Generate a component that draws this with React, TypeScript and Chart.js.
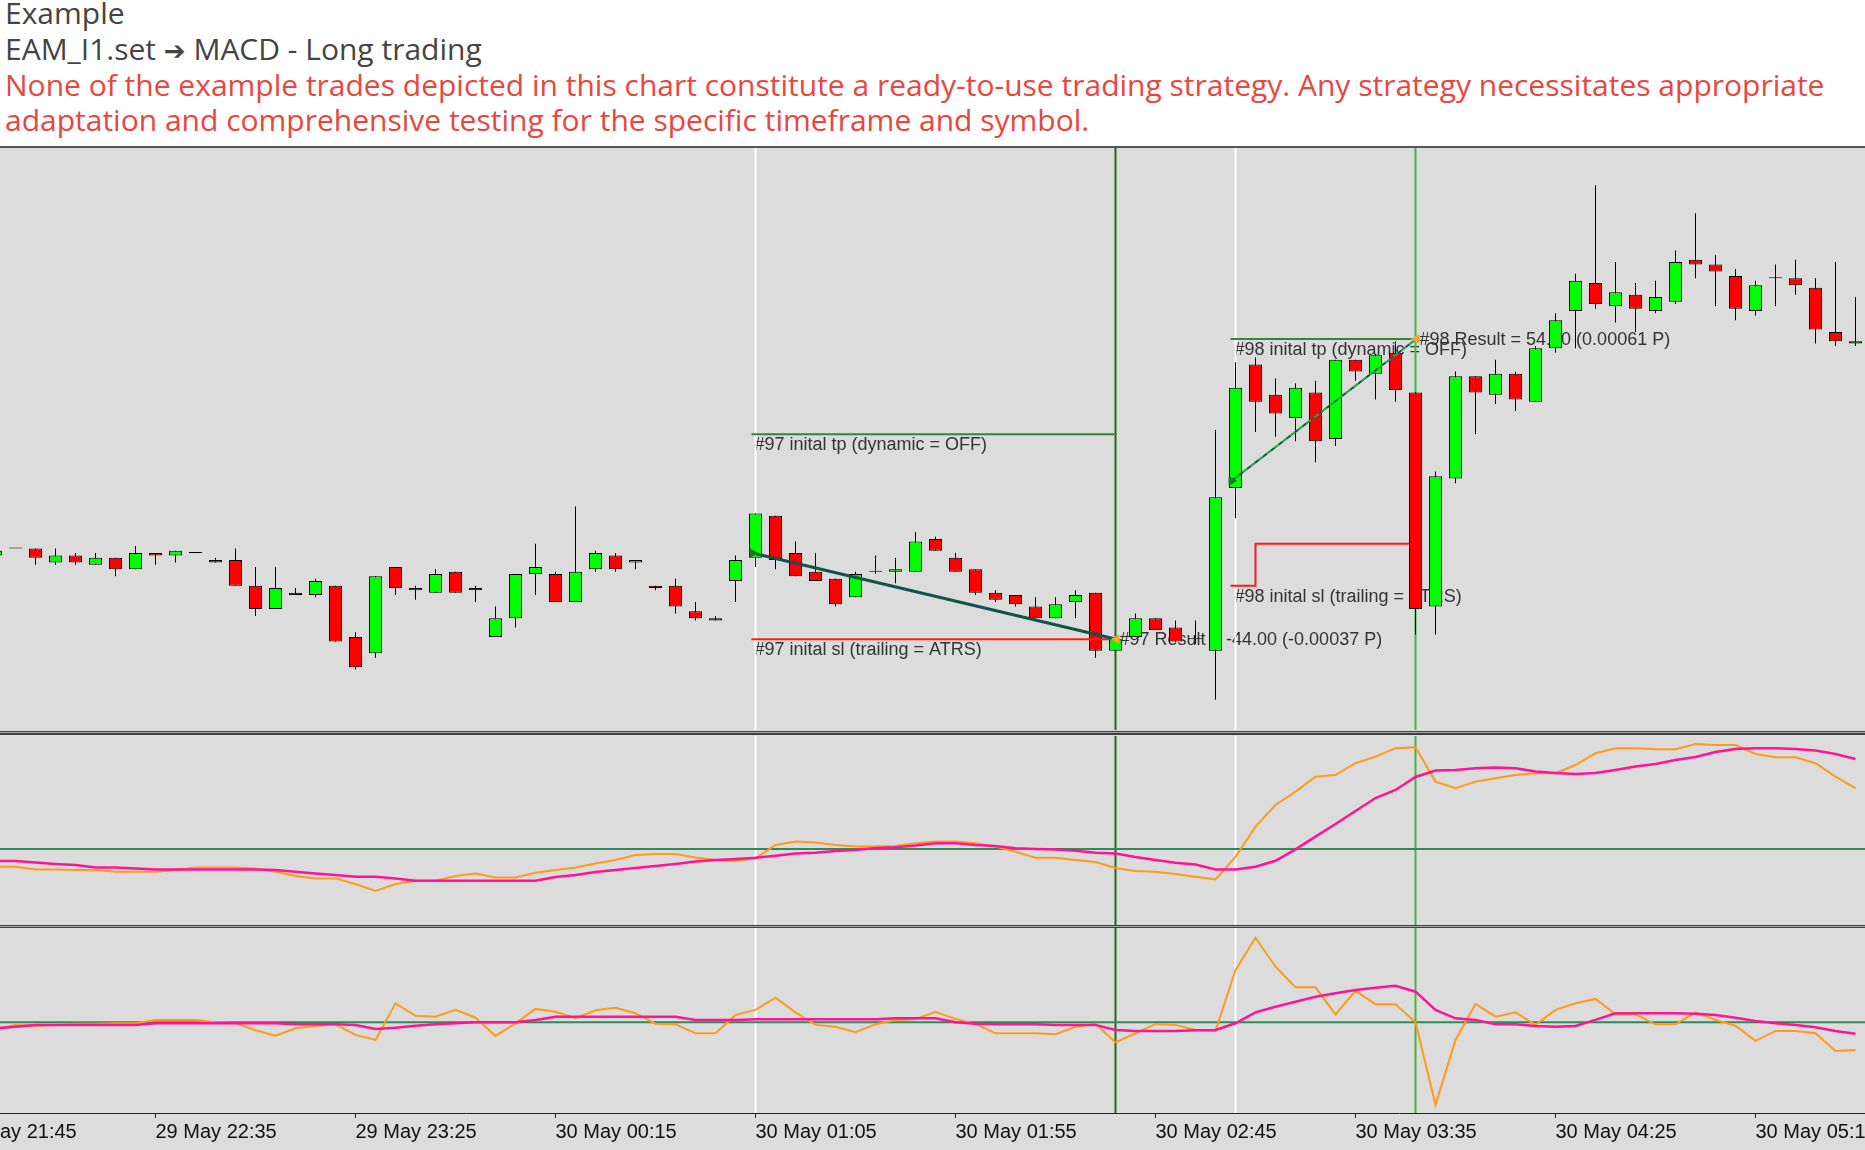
import React, { useEffect, useRef } from "react";
import { Chart, registerables } from "chart.js";

Chart.register(...registerables);

// ---------- bar axis (index 38 = 30 May 01:05, 5-minute bars) ----------
const tickBars = [-2, 8, 18, 28, 38, 48, 58, 68, 78, 88];
const tickLabels = [
  "29 May 21:45", "29 May 22:35", "29 May 23:25", "30 May 00:15", "30 May 01:05",
  "30 May 01:55", "30 May 02:45", "30 May 03:35", "30 May 04:25", "30 May 05:15",
];

// ---------- candles ----------
const openP = [
  1.07075, 1.07078, 1.07078, 1.07072, 1.07075, 1.07071, 1.07074, 1.07069, 1.07076, 1.07075,
  1.07076, 1.07073, 1.07073, 1.07062, 1.07052, 1.07059, 1.07058, 1.07062, 1.07040, 1.07033,
  1.07070, 1.07060, 1.07059, 1.07068, 1.07061, 1.07040, 1.07048, 1.07067, 1.07067, 1.07055,
  1.07069, 1.07075, 1.07072, 1.07062, 1.07062, 1.07051, 1.07047, 1.07064, 1.07074, 1.07092,
  1.07076, 1.07068, 1.07065, 1.07057, 1.07068, 1.07068, 1.07068, 1.07082, 1.07074, 1.07069,
  1.07059, 1.07058, 1.07053, 1.07048, 1.07055, 1.07059, 1.07034, 1.07040, 1.07048, 1.07044,
  1.07039, 1.07034, 1.07104, 1.07157, 1.07144, 1.07134, 1.07145, 1.07125, 1.07159, 1.07153,
  1.07162, 1.07145, 1.07053, 1.07108, 1.07152, 1.07144, 1.07153, 1.07141, 1.07164, 1.07180,
  1.07192, 1.07182, 1.07187, 1.07180, 1.07184, 1.07202, 1.07200, 1.07195, 1.07180, 1.07194,
  1.07194, 1.07190, 1.07171, 1.07166,
];
const highP = [
  1.07078, 1.07078, 1.07078, 1.07078, 1.07076, 1.07076, 1.07074, 1.07079, 1.07076, 1.07077,
  1.07076, 1.07074, 1.07078, 1.07070, 1.07070, 1.07061, 1.07065, 1.07062, 1.07042, 1.07066,
  1.07070, 1.07062, 1.07069, 1.07068, 1.07062, 1.07053, 1.07067, 1.07080, 1.07068, 1.07096,
  1.07077, 1.07076, 1.07073, 1.07062, 1.07065, 1.07055, 1.07049, 1.07075, 1.07093, 1.07092,
  1.07081, 1.07076, 1.07065, 1.07068, 1.07075, 1.07074, 1.07085, 1.07083, 1.07076, 1.07069,
  1.07060, 1.07058, 1.07057, 1.07057, 1.07060, 1.07059, 1.07039, 1.07050, 1.07048, 1.07047,
  1.07047, 1.07129, 1.07158, 1.07160, 1.07151, 1.07149, 1.07150, 1.07159, 1.07159, 1.07161,
  1.07167, 1.07145, 1.07111, 1.07154, 1.07152, 1.07159, 1.07154, 1.07165, 1.07179, 1.07196,
  1.07234, 1.07201, 1.07192, 1.07193, 1.07206, 1.07222, 1.07204, 1.07198, 1.07193, 1.07200,
  1.07202, 1.07194, 1.07201, 1.07186,
];
const lowP = [
  1.07074, 1.07078, 1.07071, 1.07071, 1.07071, 1.07071, 1.07066, 1.07069, 1.07071, 1.07072,
  1.07076, 1.07072, 1.07062, 1.07049, 1.07052, 1.07058, 1.07057, 1.07038, 1.07026, 1.07031,
  1.07058, 1.07056, 1.07059, 1.07059, 1.07055, 1.07040, 1.07044, 1.07058, 1.07055, 1.07055,
  1.07068, 1.07068, 1.07069, 1.07060, 1.07050, 1.07047, 1.07047, 1.07055, 1.07070, 1.07069,
  1.07066, 1.07064, 1.07053, 1.07057, 1.07067, 1.07063, 1.07068, 1.07077, 1.07068, 1.07058,
  1.07055, 1.07053, 1.07048, 1.07048, 1.07048, 1.07031, 1.07034, 1.07040, 1.07043, 1.07038,
  1.07037, 1.07013, 1.07091, 1.07128, 1.07126, 1.07124, 1.07115, 1.07122, 1.07150, 1.07142,
  1.07141, 1.07041, 1.07041, 1.07106, 1.07127, 1.07140, 1.07137, 1.07141, 1.07162, 1.07164,
  1.07181, 1.07175, 1.07171, 1.07179, 1.07183, 1.07194, 1.07182, 1.07176, 1.07178, 1.07182,
  1.07187, 1.07166, 1.07165, 1.07165,
];
const closeP = [
  1.07077, 1.07078, 1.07074, 1.07075, 1.07072, 1.07074, 1.07069, 1.07076, 1.07075, 1.07077,
  1.07076, 1.07072, 1.07062, 1.07052, 1.07061, 1.07058, 1.07064, 1.07038, 1.07027, 1.07066,
  1.07061, 1.07061, 1.07067, 1.07059, 1.07060, 1.07048, 1.07067, 1.07070, 1.07055, 1.07068,
  1.07076, 1.07069, 1.07073, 1.07061, 1.07053, 1.07048, 1.07048, 1.07073, 1.07093, 1.07073,
  1.07066, 1.07064, 1.07054, 1.07067, 1.07068, 1.07069, 1.07081, 1.07077, 1.07068, 1.07059,
  1.07056, 1.07054, 1.07048, 1.07054, 1.07058, 1.07034, 1.07039, 1.07048, 1.07043, 1.07038,
  1.07039, 1.07100, 1.07147, 1.07141, 1.07136, 1.07147, 1.07124, 1.07159, 1.07154, 1.07161,
  1.07146, 1.07052, 1.07109, 1.07152, 1.07145, 1.07153, 1.07142, 1.07164, 1.07176, 1.07193,
  1.07183, 1.07188, 1.07181, 1.07186, 1.07201, 1.07200, 1.07197, 1.07181, 1.07191, 1.07194,
  1.07191, 1.07172, 1.07167, 1.07167,
];

// ---------- MACD window ----------
const macdMain = [
  -8.9, -8.9, -10.2, -10.2, -10.5, -10.5, -11.4, -11.4, -11.4, -10.5,
  -9.2, -9.2, -9.2, -9.7, -11.4, -13.5, -14.7, -14.7, -17.5, -21,
  -17.5, -15.9, -15.9, -13.5, -12.2, -14.2, -14.2, -11.9, -10.5, -9.2,
  -7.2, -5.5, -3, -2.5, -2.5, -4.2, -5.5, -6, -4.7, 2,
  3.7, 3.3, 2, 1.2, 1.2, 1.5, 2.9, 3.7, 3.7, 2.9,
  1.2, -1.4, -4.4, -4.4, -5.5, -6.5, -9.5, -11, -11.4, -12.5,
  -13.9, -15.2, -3.9, 11.2, 22, 28.7, 36.2, 37, 42.9, 46.2,
  50.4, 50.9, 33.7, 30.4, 33.7, 35.4, 37, 37.9, 37.9, 42,
  47.9, 50.4, 50.4, 49.9, 49.9, 52.5, 52, 52, 47.5, 45.9,
  45.9, 42.9, 36.2, 30.4,
];
const macdSignal = [
  -6, -6, -6.8, -7.5, -8, -9.2, -9.2, -9.8, -10.2, -10.2,
  -10.2, -10.2, -10.2, -10.2, -10.5, -11.4, -12.2, -13, -13.9, -13.9,
  -14.7, -15.9, -15.9, -15.9, -15.9, -15.9, -15.9, -15.9, -14, -13,
  -11.5, -10.5, -9.5, -8.5, -7.5, -6.3, -5.5, -5, -4.4, -3.4,
  -2.3, -1.9, -1, -0.5, 0.5, 0.9, 1.7, 2.9, 2.9, 2,
  1.5, 0.4, 0, -0.3, -0.9, -1.9, -2.2, -4, -5.5, -6.9,
  -7.8, -10.2, -10.2, -8.9, -5.9, -0.2, 6.2, 12.5, 19, 25.5,
  29.5, 36, 39.2, 39.5, 40.4, 40.7, 40.4, 38.7, 38, 37.5,
  38, 39.5, 41.2, 42.5, 44.5, 46, 48.5, 50, 50.4, 50.4,
  50, 49.2, 47.5, 45,
];

// ---------- lower oscillator window ----------
const oscMain = [
  -3.3, -1.3, -1.7, -1.3, -0.7, -0.7, -0.5, -0.5, 1.2, 1.2,
  1.2, 0, -0.3, -4, -6.7, -3, -1.8, -1, -6.3, -8.8,
  9.5, 3.3, 2.8, 6.2, 2.3, -6.8, -0.5, 6.7, 5.3, 2,
  6, 7.3, 4.5, -0.7, -1, -5.5, -5.5, 3.7, 6.2, 12.3,
  5, -1.3, -2.2, -5, -1, 1.2, 1.5, 5.3, 1.7, -0.8,
  -5.5, -5.5, -5.5, -6, -2.2, -0.8, -10, -5.5, -0.8, -1.3,
  -3.8, -4.3, 26.2, 42.3, 27.8, 17.5, 17.5, 4, 15.7, 9,
  9, 0, -41.3, -8.8, 9.2, 2.8, 5, -1.3, 6.2, 9.5,
  11.7, 4, 4, -1, -1, 5, 1.2, -1.7, -9.3, -4.3,
  -4.3, -5.5, -14.3, -13.8,
];
const oscSignal = [
  -3, -2.2, -1.3, -1.3, -1.3, -1.3, -1.3, -1.3, -0.5, -0.5,
  -0.5, -0.5, -0.5, -0.5, -0.5, -1, -1, -1, -1.3, -3.3,
  -2.7, -1.7, -1, -0.5, 0, 0, 0, 1.2, 2.8, 2.8,
  2.8, 2.8, 2.8, 2.8, 2.8, 1.2, 1.2, 1.2, 1.5, 1.5,
  1.5, 1.5, 1.5, 1.5, 1.5, 2, 2, 2, 0, -0.7,
  -1, -1, -1, -1.3, -1.3, -1.3, -3.8, -4.3, -4.3, -4.3,
  -4, -3.8, -0.5, 5, 7.8, 10.3, 12.8, 14.5, 16.2, 17.3,
  18.3, 15.3, 6.2, 2, 1.2, -1, -1, -1.8, -2.2, -1.8,
  1.2, 4.5, 4.5, 4.5, 4.5, 4.3, 3.7, 2.3, 0.7, -0.5,
  -1.3, -2.5, -4.3, -5.7,
];

// ---------- trade objects ----------
const tradeNames = ["#97", "#98"];
const entryBar = [37.85, 61.8];
const entryPrice = [1.07076, 1.07107];
const exitBar = [56.05, 71.05];
const exitPrice = [1.07039, 1.07168];
const tpPrice = [1.07127, 1.07168];
const slStartPrice = [1.07039, 1.07062];
const slTrailBar = [null, 63];
const slTrailPrice = [null, 1.0708];
const slEndBar = [56, 70.7];
const resultTexts = ["#97 Result = -44.00 (-0.00037 P)", "#98 Result = 54.00 (0.00061 P)"];
const tpTexts = ["#97 inital tp (dynamic = OFF)", "#98 inital tp (dynamic = OFF)"];
const slTexts = ["#97 inital sl (trailing = ATRS)", "#98 inital sl (trailing = ATRS)"];

// vertical object lines (bar index)
const vLineBars = [38, 56, 62, 71];
const vLineColors = ["#ffffff", "#1d6a1d", "#ffffff", "#3dbb3d"];

// ---------- layout constants ----------
const W = 1865;
const X_MIN = 0.225;
const X_MAX = 93.475;
const PRICE_MIN = 1.07;
const PRICE_MAX = 1.0725;
const MACD_MIN = -38;
const MACD_MAX = 56.5;
const OSC_MIN = -45.35;
const OSC_MAX = 47.15;
const ARIAL = '"Liberation Sans", Arial, Helvetica, sans-serif';

const barIdx = openP.map((_, i) => i);

function vLineSets(yMin: number, yMax: number) {
  return vLineBars.map((b, k) => ({
    type: "line",
    data: [{ x: b, y: yMin }, { x: b, y: yMax }],
    borderColor: vLineColors[k],
    borderWidth: 2,
    pointRadius: 0,
    fill: false,
    order: 20,
  }));
}

function zeroLine() {
  return {
    type: "line",
    data: [{ x: X_MIN, y: 0 }, { x: X_MAX, y: 0 }],
    borderColor: "#2e8b57",
    borderWidth: 2,
    pointRadius: 0,
    fill: false,
    order: 15,
  };
}

function seriesSet(values: number[], color: string, width: number, order: number) {
  return {
    type: "line",
    data: values.map((v, i) => ({ x: i, y: v })),
    borderColor: color,
    borderWidth: width,
    pointRadius: 0,
    fill: false,
    tension: 0,
    order,
  };
}

const hiddenX = { type: "linear", min: X_MIN, max: X_MAX, offset: false, display: false };

function baseOptions(yMin: number, yMax: number, xScale: any) {
  return {
    responsive: false,
    animation: false,
    devicePixelRatio: 1,
    events: [],
    layout: { padding: 0, autoPadding: false },
    plugins: { legend: { display: false }, tooltip: { enabled: false } },
    scales: {
      x: xScale,
      y: { type: "linear", min: yMin, max: yMax, display: false },
    },
  };
}

const tradeTextPlugin = {
  id: "tradeText",
  beforeDatasetsDraw(chart: any) {
    const { ctx, scales } = chart;
    const x = scales.x;
    const y = scales.y;
    ctx.save();
    ctx.font = `18px ${ARIAL}`;
    ctx.fillStyle = "#333333";
    ctx.textAlign = "left";
    ctx.textBaseline = "middle";
    tradeNames.forEach((_, k) => {
      const lx = x.getPixelForValue(k === 0 ? 37.95 : 61.95);
      ctx.fillText(tpTexts[k], lx, y.getPixelForValue(tpPrice[k]) + 11);
      ctx.fillText(slTexts[k], lx, y.getPixelForValue(slStartPrice[k]) + 11);
      ctx.fillText(resultTexts[k], x.getPixelForValue(exitBar[k]) + 3, y.getPixelForValue(exitPrice[k]) + 1);
    });
    ctx.restore();
  },
};

function mainConfig(): any {
  const bodyColors = barIdx.map((i) =>
    closeP[i] > openP[i] ? "#00ff00" : closeP[i] < openP[i] ? "#ff0000" : "#000000"
  );
  const datasets: any[] = [
    ...vLineSets(PRICE_MIN, PRICE_MAX),
    {
      type: "bar",
      data: barIdx.map((i) => ({ x: i, y: [lowP[i], highP[i]] })),
      backgroundColor: "#000000",
      borderWidth: 0,
      barThickness: 1,
      grouped: false,
      inflateAmount: 0,
      order: 6,
    },
    {
      type: "bar",
      data: barIdx.map((i) => ({ x: i, y: [openP[i], closeP[i]] })),
      backgroundColor: bodyColors,
      borderColor: "#000000",
      borderWidth: 1,
      borderSkipped: false,
      barThickness: 13,
      minBarLength: 1,
      grouped: false,
      inflateAmount: 0,
      order: 5,
    },
  ];
  tradeNames.forEach((_, k) => {
    const startBar = entryBar[k] - 0.05;
    datasets.push({
      type: "line",
      data: [{ x: startBar, y: tpPrice[k] }, { x: exitBar[k], y: tpPrice[k] }],
      borderColor: "#2f8a2f",
      borderWidth: 2,
      pointRadius: 0,
      order: 4,
    });
    const slData: any[] = [{ x: startBar, y: slStartPrice[k] }];
    if (slTrailBar[k] !== null) {
      slData.push({ x: slTrailBar[k], y: slStartPrice[k] });
      slData.push({ x: slTrailBar[k], y: slTrailPrice[k] });
      slData.push({ x: slEndBar[k], y: slTrailPrice[k] });
    } else {
      slData.push({ x: slEndBar[k], y: slStartPrice[k] });
    }
    datasets.push({
      type: "line",
      data: slData,
      borderColor: "#ff1a1a",
      borderWidth: 2,
      pointRadius: 0,
      order: 4,
    });
    // trade path
    datasets.push({
      type: "line",
      data: [{ x: entryBar[k], y: entryPrice[k] }, { x: exitBar[k], y: exitPrice[k] }],
      borderColor: k === 0 ? "#0d5a3a" : "#25a83a",
      borderWidth: k === 0 ? 3 : 2,
      pointRadius: 0,
      order: 3,
    });
    datasets.push({
      type: "line",
      data: [{ x: entryBar[k], y: entryPrice[k] }, { x: exitBar[k], y: exitPrice[k] }],
      borderColor: "#1f3c8c",
      borderWidth: 1.5,
      borderDash: [4, 6],
      pointRadius: 0,
      order: 2,
    });
    datasets.push({
      type: "line",
      data: [{ x: entryBar[k], y: entryPrice[k] }],
      showLine: false,
      pointStyle: "triangle",
      pointRotation: 90,
      pointRadius: 5,
      pointBackgroundColor: "#1c7a1c",
      pointBorderColor: "#1c7a1c",
      order: 1,
    });
    datasets.push({
      type: "line",
      data: [{ x: exitBar[k], y: exitPrice[k] }],
      showLine: false,
      pointStyle: "triangle",
      pointRotation: -90,
      pointRadius: 5,
      pointBackgroundColor: "#f0a830",
      pointBorderColor: "#f0a830",
      order: 1,
    });
  });
  return {
    type: "bar",
    data: { datasets },
    options: baseOptions(PRICE_MIN, PRICE_MAX, hiddenX),
    plugins: [tradeTextPlugin],
  };
}

function macdConfig(): any {
  return {
    type: "line",
    data: {
      datasets: [
        ...vLineSets(MACD_MIN, MACD_MAX),
        zeroLine(),
        seriesSet(macdMain, "#ff9a1a", 2, 3),
        seriesSet(macdSignal, "#ff1493", 2.5, 2),
      ],
    },
    options: baseOptions(MACD_MIN, MACD_MAX, hiddenX),
  };
}

function oscConfig(): any {
  const xAxis = {
    type: "linear",
    min: X_MIN,
    max: X_MAX,
    offset: false,
    display: true,
    position: "bottom",
    afterBuildTicks: (scale: any) => {
      scale.ticks = tickBars.map((v) => ({ value: v }));
    },
    afterFit: (scale: any) => {
      scale.height = 37;
      scale.paddingLeft = 0;
      scale.paddingRight = 0;
    },
    ticks: {
      autoSkip: false,
      maxRotation: 0,
      minRotation: 0,
      align: "start",
      padding: 2,
      color: "#111111",
      font: { family: ARIAL, size: 20 },
      callback: (v: number) => {
        const k = tickBars.indexOf(v);
        return k >= 0 ? tickLabels[k] : "";
      },
    },
    grid: { drawOnChartArea: false, drawTicks: true, tickLength: 5, color: "#222222", lineWidth: 1 },
    border: { display: true, color: "#222222", width: 1 },
  };
  return {
    type: "line",
    data: {
      datasets: [
        ...vLineSets(OSC_MIN, OSC_MAX),
        zeroLine(),
        seriesSet(oscMain, "#ff9a1a", 2, 3),
        seriesSet(oscSignal, "#ff1493", 2.5, 2),
      ],
    },
    options: baseOptions(OSC_MIN, OSC_MAX, xAxis),
  };
}

export default function App() {
  const mainRef = useRef<HTMLCanvasElement>(null);
  const macdRef = useRef<HTMLCanvasElement>(null);
  const oscRef = useRef<HTMLCanvasElement>(null);

  useEffect(() => {
    const charts: Chart[] = [];
    if (mainRef.current) charts.push(new Chart(mainRef.current, mainConfig()));
    if (macdRef.current) charts.push(new Chart(macdRef.current, macdConfig()));
    if (oscRef.current) charts.push(new Chart(oscRef.current, oscConfig()));
    return () => charts.forEach((c) => c.destroy());
  }, []);

  const abs = (top: number, height: number, extra: any = {}) => ({
    position: "absolute" as const,
    left: 0,
    top,
    width: W,
    height,
    ...extra,
  });

  const red = "#e6473f";
  const lineStyle = { height: 35.8, lineHeight: "35.8px", overflow: "visible" as const };
  return (
    <div style={{ position: "absolute", left: 0, top: 0, width: W, height: 1150, background: "#ffffff", overflow: "hidden" }}>
      <div
        style={{
          position: "absolute",
          left: 5,
          top: -5,
          fontFamily: '"Open Sans", sans-serif',
          fontSize: 30,
          lineHeight: "35.8px",
          color: "#444444",
          whiteSpace: "nowrap",
        }}
      >
        <div style={lineStyle}>Example</div>
        <div style={lineStyle}>
          EAM_I1.set <span style={{ fontFamily: '"DejaVu Sans", sans-serif', fontSize: 26, lineHeight: "10px" }}>➔</span> MACD - Long trading
        </div>
        <div style={{ ...lineStyle, color: red }}>
          None of the example trades depicted in this chart constitute a ready-to-use trading strategy. Any strategy necessitates appropriate
        </div>
        <div style={{ ...lineStyle, color: red }}>adaptation and comprehensive testing for the specific timeframe and symbol.</div>
      </div>
      <div style={abs(146, 1004, { background: "#dcdcdc" })} />
      <div style={abs(146, 2, { background: "#555555" })} />
      <canvas ref={mainRef} width={W} height={582} style={abs(148, 582, { display: "block" })} />
      <div style={abs(731, 1, { background: "#404040" })} />
      <div style={abs(732, 1, { background: "#a8a8a8" })} />
      <div style={abs(733, 2, { background: "#404040" })} />
      <canvas ref={macdRef} width={W} height={189} style={abs(736, 189, { display: "block" })} />
      <div style={abs(925, 1, { background: "#404040" })} />
      <div style={abs(926, 1, { background: "#a8a8a8" })} />
      <div style={abs(927, 1, { background: "#404040" })} />
      <canvas ref={oscRef} width={W} height={222} style={abs(928, 222, { display: "block" })} />
    </div>
  );
}
